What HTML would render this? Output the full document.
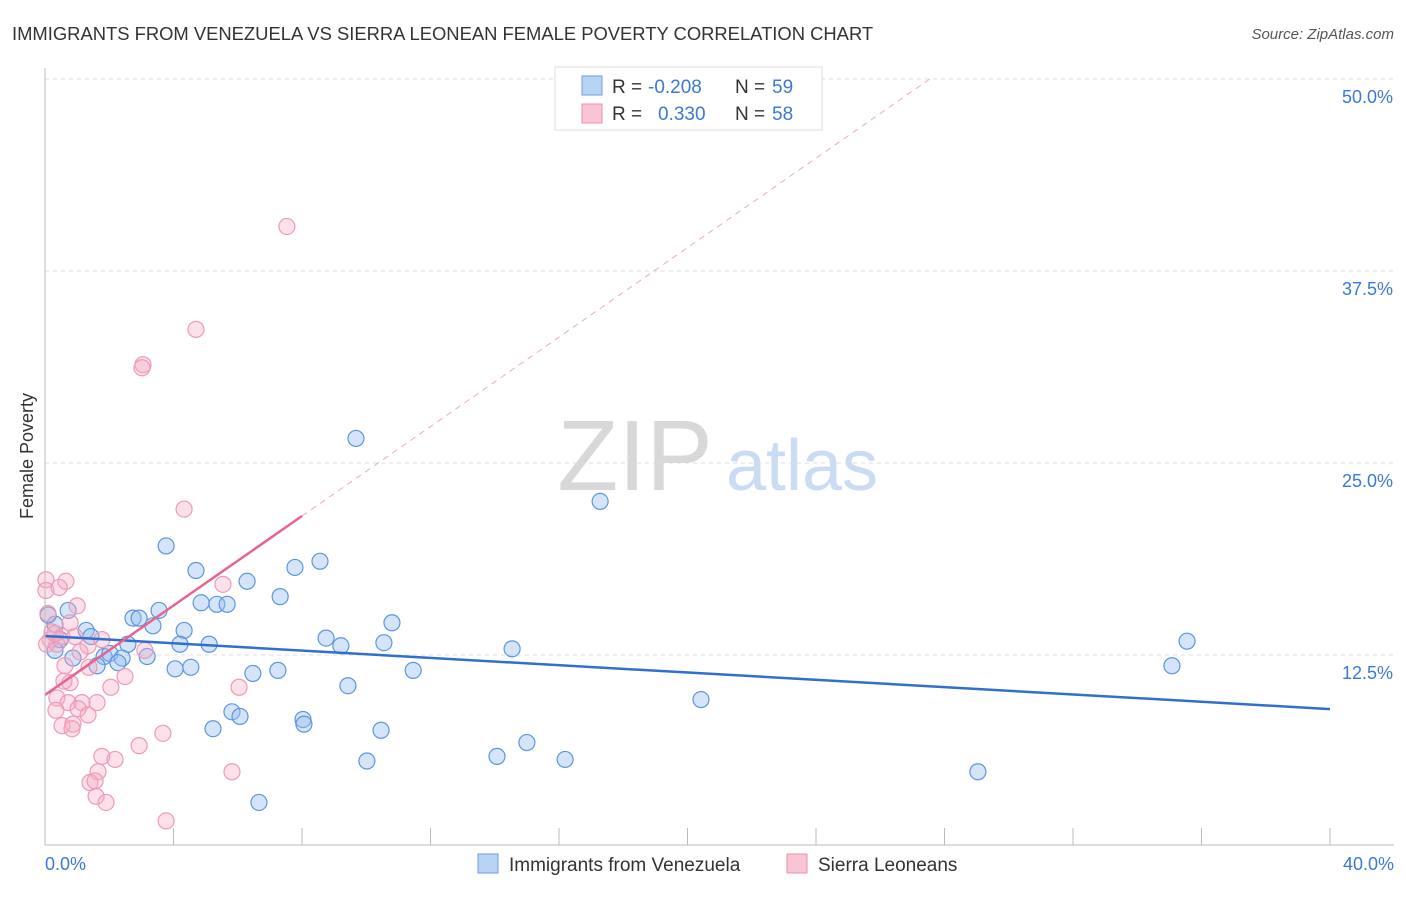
<!DOCTYPE html>
<html><head><meta charset="utf-8"><style>
body{margin:0;background:#fff;font-family:"Liberation Sans",sans-serif}
svg text{font-family:"Liberation Sans",sans-serif}
</style></head><body>
<svg width="1406" height="892" id="c">
<text x="12" y="40" font-size="18.4" fill="#333">IMMIGRANTS FROM VENEZUELA VS SIERRA LEONEAN FEMALE POVERTY CORRELATION CHART</text>
<text x="1394" y="39" font-size="15" fill="#555" font-style="italic" text-anchor="end">Source: ZipAtlas.com</text>
<text x="33" y="456" font-size="18" fill="#333" transform="rotate(-90 33 456)" text-anchor="middle">Female Poverty</text>
<g><text x="635" y="490" font-size="100" font-family="Liberation Serif" fill="#d8d8d8" text-anchor="middle">ZIP</text><text x="802" y="490" font-size="72" fill="#c9dcf3" text-anchor="middle" font-weight="bold" style="font-weight:normal">atlas</text></g>
<g id="grid"></g><g id="ticks"></g><g id="marks"></g>
<line x1="45" y1="68" x2="45" y2="845" stroke="#bbb"/>
<line x1="45" y1="845" x2="1394" y2="845" stroke="#bbb"/>
<text x="45" y="870" font-size="18" fill="#3b78d8">0.0%</text>
<text x="1394" y="870" font-size="18" fill="#3b78d8" text-anchor="end">40.0%</text>
<g>
<rect x="555" y="67" width="267" height="63" fill="#fff" stroke="#ddd"/>
<rect x="582" y="76" width="20" height="19" fill="#b9d3f5" stroke="#6a9de0"/>
<rect x="582" y="104" width="20" height="19" fill="#f9c4d3" stroke="#ec90ab"/>
<text x="612" y="93" font-size="19" fill="#333">R =</text>
<text x="648" y="93" font-size="19" fill="#3b78d8">-0.208</text>
<text x="735" y="93" font-size="19" fill="#333">N =</text>
<text x="772" y="93" font-size="19" fill="#3b78d8">59</text>
<text x="612" y="120" font-size="19" fill="#333">R =</text>
<text x="658" y="120" font-size="19" fill="#3b78d8">0.330</text>
<text x="735" y="120" font-size="19" fill="#333">N =</text>
<text x="772" y="120" font-size="19" fill="#3b78d8">58</text>
</g>
<g>
<rect x="478" y="854" width="20" height="19" fill="#b9d3f5" stroke="#6a9de0"/>
<text x="509" y="871" font-size="19" fill="#333">Immigrants from Venezuela</text>
<rect x="787" y="854" width="20" height="19" fill="#f9c4d3" stroke="#ec90ab"/>
<text x="818" y="871" font-size="19" fill="#333">Sierra Leoneans</text>
</g>
</svg>
<script>
const yTicks=[12.5,25,37.5,50];
const yTickLabels=["12.5%","25.0%","37.5%","50.0%"];
const xTicks=[0,4,8,12,16,20,24,28,32,36,40];
const blueX=[9.68,17.28,3.77,4.70,8.56,7.78,6.29,7.32,4.86,5.35,5.67,3.55,0.72,2.74,2.93,10.8,3.36,0.31,1.28,4.33,1.43,8.75,0.47,2.58,4.20,5.11,9.21,10.55,14.54,35.55,0.87,1.84,2.02,2.40,2.27,3.18,0.31,1.62,4.05,4.54,6.47,7.25,11.46,35.08,9.43,20.42,5.82,6.07,8.03,8.06,5.23,10.46,15.0,14.07,16.19,10.02,29.04,6.66,0.1];
const blueY=[26.6,22.5,19.6,18.0,18.6,18.2,17.3,16.3,15.9,15.8,15.8,15.4,15.4,14.9,14.9,14.6,14.4,14.5,14.1,14.1,13.7,13.6,13.5,13.2,13.2,13.2,13.1,13.3,12.9,13.4,12.3,12.4,12.6,12.3,12.0,12.4,12.8,11.8,11.6,11.7,11.3,11.5,11.5,11.8,10.5,9.6,8.8,8.5,8.3,8.0,7.7,7.6,6.8,5.9,5.7,5.6,4.9,2.9,15.1];
const pinkX=[7.53,4.70,3.05,3.02,4.33,0.03,0.65,0.03,0.44,5.54,1.0,0.09,0.78,0.22,0.53,0.16,0.93,0.37,1.34,1.09,3.11,0.62,1.37,0.78,0.59,2.49,2.05,6.04,0.37,0.72,1.15,1.03,1.62,0.34,1.34,0.53,0.87,0.84,3.67,2.93,1.77,2.18,5.82,1.65,1.40,1.56,1.59,1.90,3.77,1.77,0.31,0.05];
const pinkY=[40.4,33.7,31.4,31.2,22.0,17.4,17.3,16.7,16.9,17.1,15.7,15.2,14.6,14.0,13.7,13.5,13.7,13.2,13.1,12.7,12.8,11.8,11.7,10.7,10.8,11.1,10.4,10.4,9.7,9.4,9.4,9.0,9.4,8.9,8.6,7.9,8.0,7.7,7.4,6.6,5.9,5.7,4.9,4.9,4.2,4.3,3.3,2.9,1.7,13.5,13.9,13.2];
const blueTrend=[13.74,8.98];
const pinkTrend=[9.9,1.456];
const pinkSolidEnd=8;
const X=v=>45+v*32.125, Y=v=>847-v*15.36;
const NS="http://www.w3.org/2000/svg";
function mk(t,a,p){const e=document.createElementNS(NS,t);for(const k in a)e.setAttribute(k,a[k]);document.getElementById(p).appendChild(e);return e;}
yTicks.forEach((t,i)=>{
 const l=mk('line',{x1:45,x2:1394,y1:Y(t),y2:Y(t),stroke:'#ddd','stroke-dasharray':'4,4'},'grid');
 
 
 const tx=mk('text',{x:1393,y:Y(t)+24,'font-size':18,fill:'#3b78d8','text-anchor':'end'},'grid');
 tx.textContent=yTickLabels[i];
 
 
});
xTicks.forEach(t=>{
 const l=mk('line',{x1:X(t),x2:X(t),y1:828,y2:845,stroke:'#bbb'},'ticks');
 
 
});
blueX.forEach((x,i)=>{
 const c=mk('circle',{cx:X(x),cy:Y(blueY[i]),r:8,fill:'rgba(150,190,240,0.4)',stroke:'#5b95e0','stroke-width':1.2},'marks');
 
 
});
pinkX.forEach((x,i)=>{
 const c=mk('circle',{cx:X(x),cy:Y(pinkY[i]),r:8,fill:'rgba(245,170,195,0.35)',stroke:'#ee9ab3','stroke-width':1.2},'marks');
 
 
});
const bl=mk('line',{x1:X(0),y1:Y(blueTrend[0]),x2:X(40),y2:Y(blueTrend[1]),stroke:'#2f6fd0','stroke-width':2.5},'marks');


const xEnd=(50-pinkTrend[0])/pinkTrend[1];
const pd=mk('line',{x1:X(pinkSolidEnd),y1:Y(pinkTrend[0]+pinkTrend[1]*pinkSolidEnd),x2:X(xEnd),y2:Y(50),stroke:'#ecaabd','stroke-width':1,'stroke-dasharray':'6,5'},'marks');


const pl=mk('line',{x1:X(0),y1:Y(pinkTrend[0]),x2:X(pinkSolidEnd),y2:Y(pinkTrend[0]+pinkTrend[1]*pinkSolidEnd),stroke:'#e8648e','stroke-width':2.5},'marks');


</script>
</body></html>
